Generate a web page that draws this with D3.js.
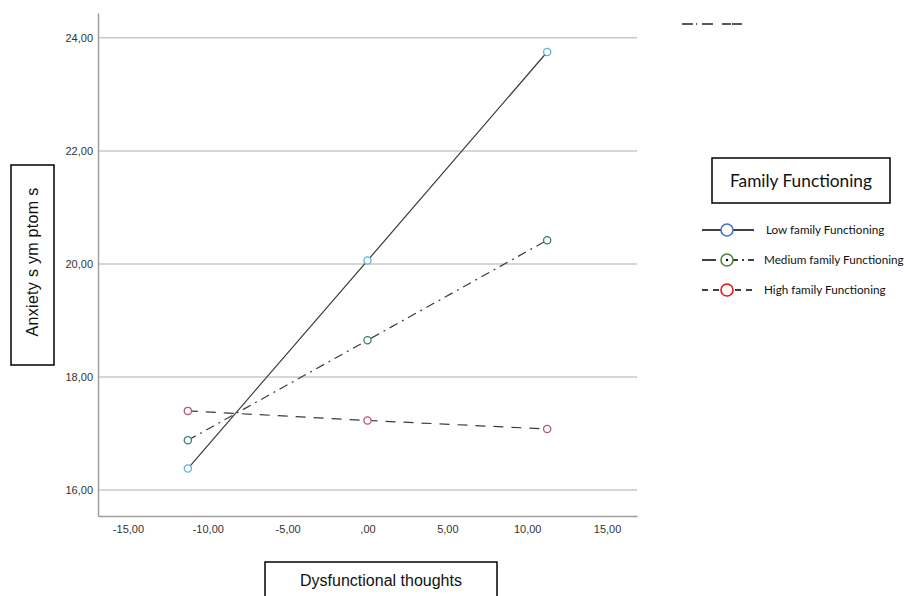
<!DOCTYPE html>
<html>
<head>
<meta charset="utf-8">
<script src="https://cdn.jsdelivr.net/npm/d3@7"></script>
<style>
  body, html { margin: 0; padding: 0; background: #fff; overflow: hidden; }
  svg { display: block; }
</style>
</head>
<body>
<div id="chart"></div>
<script>
// data
var xValues = [-11.25, 0, 11.25];
var lowFF = [16.38, 20.06, 23.75];
var mediumFF = [16.88, 18.65, 20.42];
var highFF = [17.40, 17.23, 17.08];
var xTicks = [-15, -10, -5, 0, 5, 10, 15];
var yTicks = [16, 18, 20, 22, 24];
var seriesNames = ["Low family Functioning", "Medium family Functioning", "High family Functioning"];

var W = 907, H = 596;
var svg = d3.select("#chart").append("svg").attr("width", W).attr("height", H);

var x = d3.scaleLinear().domain([-16.875, 16.875]).range([98, 637]);
var y = d3.scaleLinear().domain([15.54, 24.44]).range([516, 13]);

var fmt = function(v) {
  if (v === 0) return ",00";
  return d3.format(".2f")(v).replace("−", "-").replace(".", ",");
};

// gridlines
svg.append("g").selectAll("line").data(yTicks).enter().append("line")
  .attr("x1", x.range()[0]).attr("x2", x.range()[1])
  .attr("y1", function(d) { return y(d); }).attr("y2", function(d) { return y(d); })
  .attr("stroke", "#c9c9c9").attr("stroke-width", 1.5);

// axes
var xAxis = svg.append("g").attr("transform", "translate(0," + y.range()[0] + ")")
  .call(d3.axisBottom(x).tickValues(xTicks).tickSize(0).tickPadding(9).tickFormat(fmt));
var yAxis = svg.append("g").attr("transform", "translate(" + x.range()[0] + ",0)")
  .call(d3.axisLeft(y).tickValues(yTicks).tickSize(0).tickPadding(5).tickFormat(fmt));
[xAxis, yAxis].forEach(function(a) {
  a.select(".domain").attr("stroke", "#a0a0a0").attr("stroke-width", 1.5);
  a.selectAll("text").attr("font-family", "Liberation Sans, Arial, sans-serif")
    .attr("font-size", 11).attr("fill", "#333");
});

// series
var series = [
  {name: seriesNames[0], values: lowFF, dash: null, pt: "#5fb3d3", lg: "#4472c4"},
  {name: seriesNames[1], values: mediumFF, dash: "9,5,2,5", pt: "#3e7b78", lg: "#548235"},
  {name: seriesNames[2], values: highFF, dash: "10,8", pt: "#b0587c", lg: "#e8141c"}
];

var line = d3.line().x(function(d) { return x(d[0]); }).y(function(d) { return y(d[1]); });

series.forEach(function(s) {
  var pts = xValues.map(function(v, i) { return [v, s.values[i]]; });
  svg.append("path").datum(pts).attr("d", line)
    .attr("fill", "none").attr("stroke", "#3a3a3a").attr("stroke-width", 1.2)
    .attr("stroke-dasharray", s.dash);
  svg.append("g").selectAll("circle").data(pts).enter().append("circle")
    .attr("cx", function(d) { return x(d[0]); }).attr("cy", function(d) { return y(d[1]); })
    .attr("r", 3.6).attr("fill", "#fff").attr("stroke", s.pt).attr("stroke-width", 1.3);
});

// y label box
svg.append("rect").attr("x", 11).attr("y", 165).attr("width", 43).attr("height", 200)
  .attr("fill", "#fff").attr("stroke", "#000").attr("stroke-width", 1.5);
svg.append("text").attr("transform", "translate(38,262) rotate(-90)")
  .attr("text-anchor", "middle").attr("font-family", "Liberation Sans, Arial, sans-serif")
  .attr("font-size", 16).attr("letter-spacing", 0.3).attr("fill", "#111").text("Anxiety s ym ptom s");

// x label box
svg.append("rect").attr("x", 265).attr("y", 562).attr("width", 232).attr("height", 50)
  .attr("fill", "#fff").attr("stroke", "#000").attr("stroke-width", 1.5);
svg.append("text").attr("x", 381).attr("y", 586)
  .attr("text-anchor", "middle").attr("font-family", "Liberation Sans, Arial, sans-serif")
  .attr("font-size", 16).attr("fill", "#111").text("Dysfunctional thoughts");

// legend
var lgFont = "Lato, 'Open Sans', sans-serif";
svg.append("rect").attr("x", 712).attr("y", 158).attr("width", 178).attr("height", 45)
  .attr("fill", "#fff").attr("stroke", "#000").attr("stroke-width", 1.5);
svg.append("text").attr("x", 801).attr("y", 187).attr("text-anchor", "middle")
  .attr("font-family", lgFont).attr("font-size", 17.3).attr("fill", "#111").text("Family Functioning");

var legendY = d3.scalePoint().domain(seriesNames).range([230, 290]);
var legendDash = [null, "14,14,8,4,2,4,8", "6,5"];
series.forEach(function(s, i) {
  var yy = legendY(s.name);
  svg.append("line").attr("x1", 702).attr("x2", 754).attr("y1", yy).attr("y2", yy)
    .attr("stroke", "#000").attr("stroke-width", 1.6).attr("stroke-dasharray", legendDash[i]);
  svg.append("circle").attr("cx", 727).attr("cy", yy).attr("r", 6)
    .attr("fill", "#fff").attr("stroke", s.lg).attr("stroke-width", 1.6);
  if (i === 1) {
    svg.append("circle").attr("cx", 727).attr("cy", yy).attr("r", 1.2).attr("fill", "#000");
  }
  svg.append("text").attr("x", i === 0 ? 766 : 764).attr("y", yy + 4)
    .attr("font-family", lgFont).attr("font-size", 11.7).attr("fill", "#111").text(s.name);
});

// stray dash fragment at top right
svg.append("line").attr("x1", 682).attr("x2", 742).attr("y1", 24).attr("y2", 24)
  .attr("stroke", "#222").attr("stroke-width", 1.3).attr("stroke-dasharray", "11,3,1,5,11,9,9,1,9,0");
</script>
</body>
</html>
